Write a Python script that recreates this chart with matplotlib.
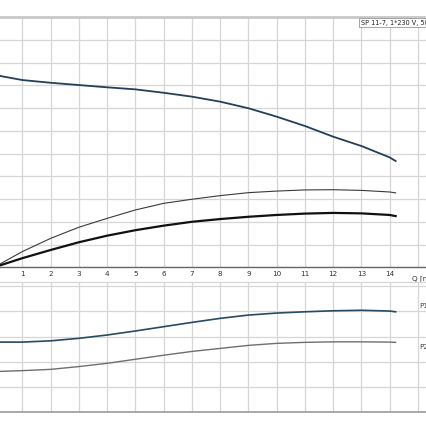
import numpy as np
import matplotlib
matplotlib.use('Agg')
import matplotlib.pyplot as plt

# flow values (m3/h) at which curves were read
q = [0, 1, 2, 3, 4, 5, 6, 7, 8, 9, 10, 11, 12, 13, 14, 14.21]
q_h = [0.21, 1, 2, 3, 4, 5, 6, 7, 8, 9, 10, 11, 12, 13, 14, 14.21]

# upper panel (grid units)
head = [8.41, 8.23, 8.11, 8.01, 7.91, 7.82, 7.67, 7.50, 7.28, 6.99, 6.62, 6.21, 5.74, 5.33, 4.83, 4.67]
eta_thin = [0.0, 0.69, 1.27, 1.76, 2.15, 2.52, 2.81, 2.99, 3.15, 3.28, 3.35, 3.40, 3.41, 3.38, 3.31, 3.27]
eta_thick = [0.0, 0.40, 0.76, 1.10, 1.39, 1.63, 1.83, 2.00, 2.12, 2.22, 2.30, 2.36, 2.39, 2.37, 2.30, 2.25]

# lower panel (grid units)
p1 = [2.78, 2.78, 2.83, 2.93, 3.06, 3.22, 3.39, 3.56, 3.72, 3.85, 3.93, 3.98, 4.02, 4.04, 4.01, 3.98]
p2 = [1.62, 1.65, 1.70, 1.81, 1.94, 2.10, 2.26, 2.41, 2.53, 2.65, 2.73, 2.77, 2.79, 2.79, 2.78, 2.77]

xticks = list(range(1, 15))
title = 'SP 11-7, 1*230 V, 50Hz'

W, H = 427, 430
fig = plt.figure(figsize=(W / 100, H / 100), dpi=100)

def fy(p):
    return 1 - p / H

xlim = (0.211, 15.32)
grid_c = '#d6d6d6'

ax1 = fig.add_axes([0, fy(267.3), 1, fy(17) - fy(267.3)])
ax2 = fig.add_axes([0, fy(412.3), 1, fy(282) - fy(412.3)])

for ax in (ax1, ax2):
    ax.set_xticks(range(0, 16))
    ax.set_xlim(*xlim)
    ax.grid(True, color=grid_c, linewidth=0.9)
    ax.set_axisbelow(True)
    ax.spines['left'].set_visible(False)
    ax.spines['right'].set_visible(False)
    ax.tick_params(length=0)

ax1.set_yticks(range(0, 12))
ax1.set_ylim(0, 11)
ax1.set_yticklabels([])
ax1.spines['top'].set_color('#c8c8c8')
ax1.spines['top'].set_linewidth(2)
ax1.spines['bottom'].set_color('#666666')
ax1.spines['bottom'].set_linewidth(1)
ax1.set_xticklabels([''] + [str(t) for t in xticks] + [''], fontsize=5.2, color='#333333')
ax1.tick_params(axis='x', pad=3)
ax1.text(14.78, -0.3, 'Q [m³/h]', fontsize=5.2, color='#333333', ha='left', va='top')

ax1.plot(q_h, head, color='#233f5a', linewidth=1.3)
ax1.plot(q, eta_thin, color='#3a3a3a', linewidth=0.8)
ax1.plot(q, eta_thick, color='#111111', linewidth=1.6)

ax2.set_yticks(range(0, 6))
ax2.set_ylim(0, 5.16)
ax2.set_yticklabels([])
ax2.set_xticklabels([])
ax2.spines['top'].set_color('#d6d6d6')
ax2.spines['top'].set_linewidth(0.9)
ax2.spines['bottom'].set_color('#9a9a9a')
ax2.spines['bottom'].set_linewidth(1.2)

ax2.plot(q_h, p1, color='#284a62', linewidth=1.2)
ax2.plot(q_h, p2, color='#6e6e6e', linewidth=1.0)
ax2.text(15.04, 4.2, 'P1', fontsize=5.2, color='#444444', ha='left', va='center')
ax2.text(15.04, 2.59, 'P2', fontsize=5.2, color='#444444', ha='left', va='center')

fig.text(361 / W, fy(22.5), title, fontsize=4.7, color='#222222', ha='left', va='center',
         bbox=dict(boxstyle='square,pad=0.3', facecolor='white', edgecolor='#999999', linewidth=0.6))

fig.savefig('out.png', dpi=100)
